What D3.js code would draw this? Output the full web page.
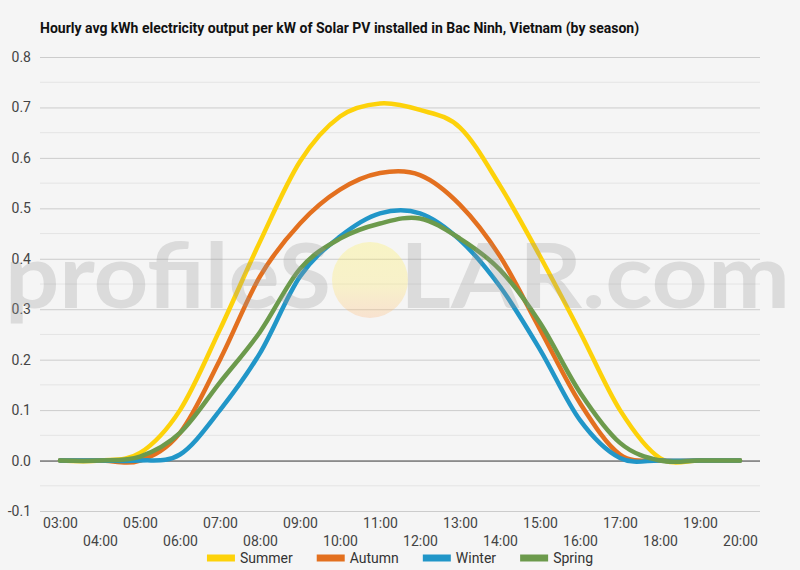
<!DOCTYPE html>
<html>
<head>
<meta charset="utf-8">
<script src="https://cdn.jsdelivr.net/npm/d3@7"></script>
<style>
  body { margin: 0; background: #f5f5f5; }
  svg { display: block; font-family: Roboto, sans-serif; }
</style>
</head>
<body>
<div class="canvas"></div>
<script>
const hours = ['03:00','04:00','05:00','06:00','07:00','08:00','09:00','10:00','11:00',
  '12:00','13:00','14:00','15:00','16:00','17:00','18:00','19:00','20:00'];

const summer = [0, 0, 0.015, 0.10, 0.26, 0.434, 0.593, 0.682, 0.708, 0.695, 0.66, 0.545, 0.405, 0.255, 0.10, 0.005, 0, 0];
const autumn = [0, 0, 0, 0.055, 0.20, 0.365, 0.47, 0.537, 0.57, 0.566, 0.507, 0.405, 0.26, 0.114, 0.012, 0, 0, 0];
const winter = [0, 0, 0, 0.012, 0.10, 0.213, 0.365, 0.444, 0.49, 0.49, 0.437, 0.345, 0.22, 0.08, 0.005, 0, 0, 0];
const spring = [0, 0, 0.008, 0.055, 0.155, 0.255, 0.38, 0.44, 0.47, 0.48, 0.44, 0.378, 0.273, 0.135, 0.035, 0, 0, 0];

const seasonNames = ['Summer', 'Autumn', 'Winter', 'Spring'];
const seasonColors = ['#fdd20a', '#e3701f', '#2196c8', '#6c9a4c'];
const yTicks = [-0.1, 0, 0.1, 0.2, 0.3, 0.4, 0.5, 0.6, 0.7, 0.8];

const series = [summer, autumn, winter, spring].map((vals, i) => ({
  name: seasonNames[i], color: seasonColors[i], values: vals
}));

const dims = { width: 800, height: 570 };
const plot = { left: 40, right: 760, top: 57, bottom: 511 };

const svg = d3.select('.canvas')
  .append('svg')
  .attr('width', dims.width)
  .attr('height', dims.height);

svg.append('rect')
  .attr('width', dims.width)
  .attr('height', dims.height)
  .attr('fill', '#f5f5f5');

const x = d3.scalePoint()
  .domain(hours)
  .range([plot.left, plot.right])
  .padding(0.5);

const y = d3.scaleLinear()
  .domain([-0.1, 0.8])
  .range([plot.bottom, plot.top]);

// title
svg.append('text')
  .attr('x', 40)
  .attr('y', 33)
  .attr('font-size', 14)
  .attr('font-weight', 'bold')
  .attr('fill', '#111')
  .text('Hourly avg kWh electricity output per kW of Solar PV installed in Bac Ninh, Vietnam (by season)');

// minor gridlines
const minor = d3.range(-0.05, 0.8, 0.1);
svg.append('g').selectAll('line')
  .data(minor)
  .enter().append('line')
  .attr('x1', plot.left).attr('x2', plot.right)
  .attr('y1', d => y(d)).attr('y2', d => y(d))
  .attr('stroke', '#e4e4e4').attr('stroke-width', 1);

// y axis with major gridlines
const yAxis = svg.append('g')
  .attr('transform', `translate(${plot.left},0)`)
  .call(d3.axisLeft(y)
    .tickValues(yTicks)
    .tickFormat(d => d.toFixed(1))
    .tickSize(-(plot.right - plot.left))
    .tickPadding(9));

yAxis.select('.domain').remove();
yAxis.selectAll('line')
  .attr('stroke', d => d === 0 ? '#333' : '#cccccc');
yAxis.selectAll('text')
  .attr('font-family', 'Roboto, sans-serif')
  .attr('font-size', 14)
  .attr('fill', '#444');

// x axis, labels staggered on two rows
const xAxis = svg.append('g')
  .attr('transform', `translate(0,${plot.bottom})`)
  .call(d3.axisBottom(x).tickSize(0).tickPadding(0));

xAxis.select('.domain').remove();
xAxis.selectAll('text')
  .attr('font-family', 'Roboto, sans-serif')
  .attr('font-size', 14)
  .attr('fill', '#444')
  .attr('dy', null)
  .attr('y', (d, i) => i % 2 === 0 ? 17 : 35);

// lines
const line = d3.line()
  .x((d, i) => x(hours[i]))
  .y(d => y(d))
  .curve(d3.curveCardinal.tension(0));

svg.append('g').selectAll('path')
  .data(series)
  .enter().append('path')
  .attr('d', d => line(d.values))
  .attr('fill', 'none')
  .attr('stroke', d => d.color)
  .attr('stroke-width', 4.5)
  .attr('stroke-linecap', 'round')
  .attr('stroke-linejoin', 'round');

// watermark
const defs = svg.append('defs');
const sunGrad = defs.append('linearGradient')
  .attr('id', 'sun')
  .attr('x1', 0).attr('y1', 0).attr('x2', 0).attr('y2', 1);
sunGrad.append('stop').attr('offset', '0%').attr('stop-color', '#fff04a');
sunGrad.append('stop').attr('offset', '55%').attr('stop-color', '#ffe85a');
sunGrad.append('stop').attr('offset', '100%').attr('stop-color', '#ffb070');

const mark = svg.append('g').attr('pointer-events', 'none');
mark.append('circle')
  .attr('cx', 370).attr('cy', 280).attr('r', 38)
  .attr('fill', 'url(#sun)')
  .attr('opacity', 0.28);

mark.append('text')
  .attr('x', 5).attr('y', 308)
  .attr('font-family', 'Lato, sans-serif')
  .attr('font-weight', 'bold')
  .attr('font-size', 90)
  .attr('textLength', 326)
  .attr('lengthAdjust', 'spacingAndGlyphs')
  .attr('fill', '#999')
  .attr('opacity', 0.28)
  .text('profileS');

mark.append('text')
  .attr('x', 400).attr('y', 308)
  .attr('font-family', 'Lato, sans-serif')
  .attr('font-weight', 'bold')
  .attr('font-size', 90)
  .attr('textLength', 390)
  .attr('lengthAdjust', 'spacingAndGlyphs')
  .attr('fill', '#999')
  .attr('opacity', 0.28)
  .text('LAR.com');

// legend
const legend = svg.append('g');
const items = legend.selectAll('g')
  .data(series)
  .enter().append('g');

items.append('line')
  .attr('x1', 0).attr('x2', 28)
  .attr('y1', 558).attr('y2', 558)
  .attr('stroke', d => d.color)
  .attr('stroke-width', 7);

items.append('text')
  .attr('x', 33)
  .attr('y', 563)
  .attr('font-size', 14)
  .attr('fill', '#333')
  .text(d => d.name);

const widths = [];
items.each(function () {
  widths.push(33 + this.querySelector('text').getComputedTextLength());
});
const total = d3.sum(widths) + 24 * (widths.length - 1);
let offset = (dims.width - total) / 2;
items.attr('transform', (d, i) => {
  const t = `translate(${offset},0)`;
  offset += widths[i] + 24;
  return t;
});
</script>
</body>
</html>
